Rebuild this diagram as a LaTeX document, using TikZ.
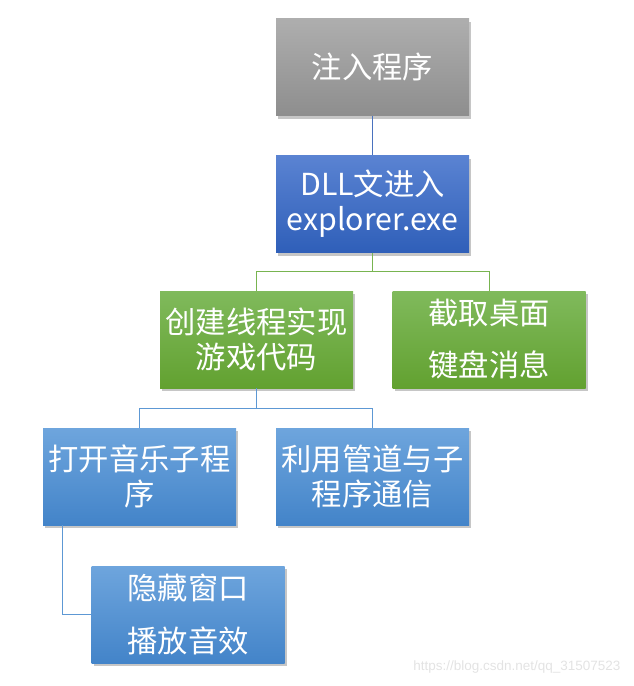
\documentclass[tikz,border=0pt]{standalone}
\usepackage{fontspec}
\usepackage{xcolor}
\usepackage{tikz}
\usetikzlibrary{shadows}

\newfontfamily\cjk{Noto Sans CJK SC}
\newfontfamily\wmfont{Liberation Sans}

\definecolor{greytop}{HTML}{AEAEAE}
\definecolor{greybot}{HTML}{8E8E8E}
\definecolor{darktop}{HTML}{5A83D2}
\definecolor{darkbot}{HTML}{2F5FB9}
\definecolor{greentop}{HTML}{80BA5C}
\definecolor{greenbot}{HTML}{62A130}
\definecolor{bluetop}{HTML}{6EA5DD}
\definecolor{bluebot}{HTML}{4384C9}
\definecolor{darkline}{HTML}{4A72BE}
\definecolor{greenline}{HTML}{78B450}
\definecolor{blueline}{HTML}{5D98D4}

\begin{document}
\begin{tikzpicture}[x=1pt,y=-1pt,
  box/.style={minimum width=193pt, minimum height=97pt, inner sep=0pt,
    align=center, text=white,
    font=\cjk\fontsize{30.3}{35}\selectfont,
    drop shadow={opacity=0.45, shadow xshift=2pt, shadow yshift=-3pt}},
  greybox/.style={box, top color=greytop, bottom color=greybot},
  darkbox/.style={box, top color=darktop, bottom color=darkbot},
  greenbox/.style={box, top color=greentop, bottom color=greenbot},
  bluebox/.style={box, top color=bluetop, bottom color=bluebot},
  link/.style={line width=1pt}]
\useasboundingbox (0,0) rectangle (634,686);
%
\node[greybox] (inject) at (372.5,67) {注入程序};
\node[darkbox] (dll) at (372.5,204) {DLL文进入\\explorer.exe};
\node[greenbox] (game) at (256.5,339.5) {创建线程实现\\游戏代码};
\node[greenbox] (desk) at (489,339.5) {截取桌面\\[17pt]键盘消息};
\node[bluebox] (music) at (139.5,476.5) {打开音乐子程\\序};
\node[bluebox] (pipe) at (372.5,476.5) {利用管道与子\\程序通信};
\node[bluebox] (hide) at (188,614.5) {隐藏窗口\\[18pt]播放音效};
%
\coordinate (fork1) at (372.5,271);
\coordinate (fork2) at (256.5,408);
\draw[link, darkline] (inject) -- (dll);
\draw[link, greenline] (dll) -- (fork1) -| (game);
\draw[link, greenline] (fork1) -| (desk);
\draw[link, blueline] (game) -- (fork2) -| (music);
\draw[link, blueline] (fork2) -| (pipe);
\draw[link, blueline] ([xshift=20pt]music.south west) |- (hide.west);
%
\node[text=black!11, font=\wmfont\fontsize{13.5}{16}\selectfont, anchor=east]
  (mark) at (624,667) {https://blog.csdn.net/qq\_31507523};
\end{tikzpicture}
\end{document}
